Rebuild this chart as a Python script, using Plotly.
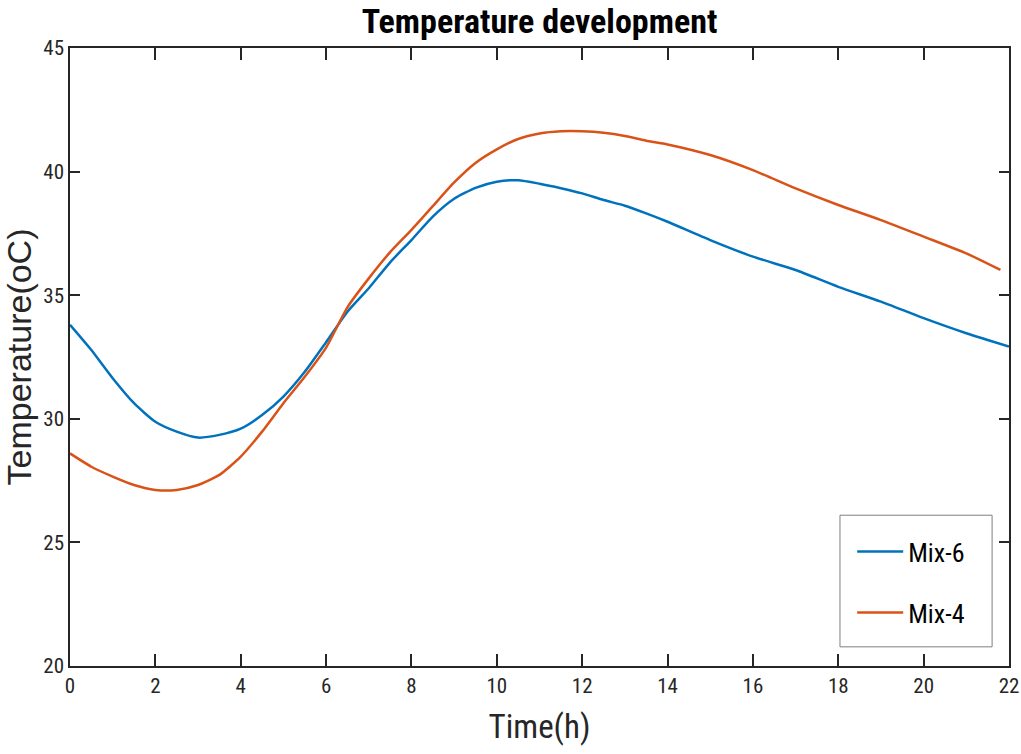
import plotly.graph_objects as go

# Time axis samples (hours)
hours_mix6 = [0, 0.5, 1, 1.5, 2, 2.5, 3, 3.5, 4, 4.5, 5, 5.5, 6, 6.5, 7, 7.5,
              8, 8.5, 9, 9.5, 10, 10.5, 11, 11.5, 12, 12.5, 13, 13.5, 14, 15,
              16, 17, 18, 19, 20, 21, 21.5, 22]
temp_mix6 = [33.8, 32.78, 31.64, 30.63, 29.88, 29.48, 29.24, 29.35, 29.6, 30.15,
             30.9, 31.9, 33.1, 34.33, 35.28, 36.33, 37.23, 38.18, 38.9, 39.34,
             39.59, 39.65, 39.51, 39.33, 39.12, 38.85, 38.62, 38.31, 37.97, 37.23,
             36.56, 36.02, 35.34, 34.74, 34.07, 33.46, 33.19, 32.92]

hours_mix4 = [0, 0.5, 1, 1.5, 2, 2.5, 3, 3.5, 4, 4.5, 5, 5.5, 6, 6.5, 7, 7.5,
              8, 8.5, 9, 9.5, 10, 10.5, 11, 11.5, 12, 12.5, 13, 13.5, 14, 15,
              16, 17, 18, 19, 20, 21, 21.8]
temp_mix4 = [28.6, 28.06, 27.66, 27.32, 27.12, 27.12, 27.32, 27.73, 28.47, 29.48,
             30.63, 31.7, 32.88, 34.51, 35.68, 36.74, 37.64, 38.6, 39.56, 40.35,
             40.9, 41.32, 41.54, 41.63, 41.63, 41.57, 41.44, 41.25, 41.1, 40.67,
             40.06, 39.32, 38.65, 38.04, 37.37, 36.69, 36.02]

x_ticks = [0, 2, 4, 6, 8, 10, 12, 14, 16, 18, 20, 22]
y_ticks = [20, 25, 30, 35, 40, 45]

FONT = "Liberation Sans Narrow, Roboto Condensed, Arial Narrow, Liberation Sans, sans-serif"
WIDE_FONT = "Liberation Sans, Arial, sans-serif"
AXIS_COLOR = "#262626"

fig = go.Figure()
fig.add_trace(go.Scatter(x=hours_mix6, y=temp_mix6, mode="lines", name="Mix-6",
                         line=dict(color="#0072BD", width=2.5, shape="spline", smoothing=0.6),
                         legendgroup="a"))
fig.add_trace(go.Scatter(x=hours_mix4, y=temp_mix4, mode="lines", name="Mix-4",
                         line=dict(color="#D95319", width=2.5, shape="spline", smoothing=0.6),
                         legendgroup="b"))

axis_common = dict(showgrid=False, zeroline=False, showline=True, linecolor=AXIS_COLOR,
                   linewidth=1.5, mirror="allticks", ticks="inside", tickcolor=AXIS_COLOR,
                   tickwidth=1.5, automargin=False,
                   tickfont=dict(family=FONT, size=21, color=AXIS_COLOR))

fig.update_xaxes(range=[0, 22], tickvals=x_ticks, ticklen=12,
                 title=dict(text="Time(h)", font=dict(family=FONT, size=33, color=AXIS_COLOR),
                            standoff=18),
                 **axis_common)
fig.update_yaxes(range=[20, 45], tickvals=y_ticks, ticklen=10,
                 title=dict(text="Temperature(oC)", font=dict(family=WIDE_FONT, size=34, color=AXIS_COLOR),
                            standoff=4),
                 **axis_common)

# Legend frame drawn as a paper-space rectangle around the legend entries
fig.add_shape(type="rect", xref="paper", yref="paper",
              x0=0.820, x1=0.982, y0=0.031, y1=0.244,
              line=dict(color="#7f7f7f", width=1), fillcolor="white", layer="above")

fig.update_layout(
    width=1021, height=754,
    margin=dict(l=70, r=12, t=48, b=88),
    paper_bgcolor="white", plot_bgcolor="white",
    title=dict(text="<b>Temperature development</b>", x=0.5 + (70 - 12) / 2 / 1021, xanchor="center",
               y=0.972, yanchor="middle",
               font=dict(family=FONT, size=34, color="black")),
    legend=dict(x=0.833, y=0.223, xanchor="left", yanchor="top",
                bgcolor="rgba(0,0,0,0)", borderwidth=0,
                font=dict(family=FONT, size=26, color="black"),
                itemwidth=46, tracegroupgap=24),
    showlegend=True,
)

fig.write_html("out.html")
